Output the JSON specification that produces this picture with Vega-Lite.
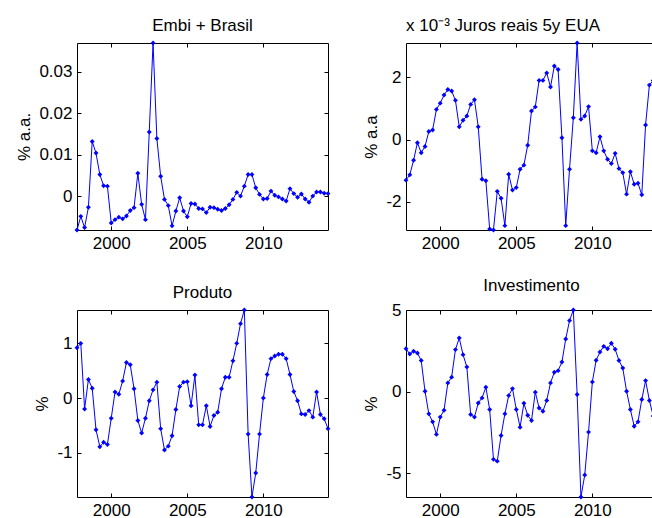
{
  "$schema": "https://vega.github.io/schema/vega-lite/v6.json",
  "background": "white",
  "padding": {"left": 15, "top": 16, "right": 0, "bottom": 0},
  "bounds": "flush",
  "columns": 2,
  "spacing": {"row": 80, "column": 78},
  "data": {"values": [
    {"t": 1997.75, "embi": -0.0082, "juros": -1.30, "produto": 0.92, "invest": 2.63},
    {"t": 1998.00, "embi": -0.0049, "juros": -1.13, "produto": 1.00, "invest": 2.30},
    {"t": 1998.25, "embi": -0.0076, "juros": -0.66, "produto": -0.20, "invest": 2.47},
    {"t": 1998.50, "embi": -0.0027, "juros": -0.10, "produto": 0.34, "invest": 2.36},
    {"t": 1998.75, "embi": 0.0132, "juros": -0.42, "produto": 0.18, "invest": 1.90},
    {"t": 1999.00, "embi": 0.0104, "juros": -0.22, "produto": -0.58, "invest": 0.02},
    {"t": 1999.25, "embi": 0.0052, "juros": 0.26, "produto": -0.89, "invest": -1.37},
    {"t": 1999.50, "embi": 0.0025, "juros": 0.31, "produto": -0.81, "invest": -1.86},
    {"t": 1999.75, "embi": 0.0024, "juros": 0.97, "produto": -0.85, "invest": -2.63},
    {"t": 2000.00, "embi": -0.0065, "juros": 1.17, "produto": -0.37, "invest": -1.57},
    {"t": 2000.25, "embi": -0.0057, "juros": 1.43, "produto": 0.11, "invest": -1.15},
    {"t": 2000.50, "embi": -0.0051, "juros": 1.61, "produto": 0.07, "invest": 0.53},
    {"t": 2000.75, "embi": -0.0055, "juros": 1.56, "produto": 0.31, "invest": 0.88},
    {"t": 2001.00, "embi": -0.0048, "juros": 1.26, "produto": 0.65, "invest": 2.57},
    {"t": 2001.25, "embi": -0.0035, "juros": 0.41, "produto": 0.61, "invest": 3.28},
    {"t": 2001.50, "embi": -0.0028, "juros": 0.62, "produto": 0.17, "invest": 2.26},
    {"t": 2001.75, "embi": 0.0055, "juros": 0.76, "produto": -0.41, "invest": 1.51},
    {"t": 2002.00, "embi": -0.0020, "juros": 1.13, "produto": -0.64, "invest": -1.41},
    {"t": 2002.25, "embi": -0.0057, "juros": 1.28, "produto": -0.37, "invest": -1.57},
    {"t": 2002.50, "embi": 0.0155, "juros": 0.41, "produto": -0.05, "invest": -0.70},
    {"t": 2002.75, "embi": 0.0370, "juros": -1.27, "produto": 0.15, "invest": -0.39},
    {"t": 2003.00, "embi": 0.0139, "juros": -1.32, "produto": 0.29, "invest": 0.26},
    {"t": 2003.25, "embi": 0.0048, "juros": -2.87, "produto": -0.56, "invest": -1.10},
    {"t": 2003.50, "embi": -0.0008, "juros": -2.90, "produto": -0.95, "invest": -4.16},
    {"t": 2003.75, "embi": -0.0023, "juros": -1.66, "produto": -0.88, "invest": -4.27},
    {"t": 2004.00, "embi": -0.0072, "juros": -1.88, "produto": -0.69, "invest": -2.70},
    {"t": 2004.25, "embi": -0.0036, "juros": -2.76, "produto": -0.21, "invest": -1.37},
    {"t": 2004.50, "embi": -0.0004, "juros": -1.11, "produto": 0.21, "invest": -0.25},
    {"t": 2004.75, "embi": -0.0036, "juros": -1.62, "produto": 0.29, "invest": 0.18},
    {"t": 2005.00, "embi": -0.0050, "juros": -1.54, "produto": 0.30, "invest": -1.10},
    {"t": 2005.25, "embi": -0.0018, "juros": -0.95, "produto": -0.14, "invest": -2.19},
    {"t": 2005.50, "embi": -0.0019, "juros": -0.82, "produto": 0.42, "invest": -0.72},
    {"t": 2005.75, "embi": -0.0030, "juros": -0.18, "produto": -0.49, "invest": -1.46},
    {"t": 2006.00, "embi": -0.0031, "juros": 0.92, "produto": -0.49, "invest": -1.78},
    {"t": 2006.25, "embi": -0.0040, "juros": 1.05, "produto": -0.14, "invest": -0.04},
    {"t": 2006.50, "embi": -0.0027, "juros": 1.90, "produto": -0.52, "invest": -1.01},
    {"t": 2006.75, "embi": -0.0028, "juros": 1.90, "produto": -0.32, "invest": -1.21},
    {"t": 2007.00, "embi": -0.0032, "juros": 2.14, "produto": -0.26, "invest": -0.55},
    {"t": 2007.25, "embi": -0.0035, "juros": 1.69, "produto": 0.17, "invest": 0.53},
    {"t": 2007.50, "embi": -0.0030, "juros": 2.36, "produto": 0.38, "invest": 1.18},
    {"t": 2007.75, "embi": -0.0021, "juros": 2.25, "produto": 0.38, "invest": 1.28},
    {"t": 2008.00, "embi": -0.0008, "juros": 0.06, "produto": 0.68, "invest": 1.81},
    {"t": 2008.25, "embi": 0.0009, "juros": -2.76, "produto": 1.00, "invest": 3.22},
    {"t": 2008.50, "embi": 0.0000, "juros": -0.95, "produto": 1.36, "invest": 4.35},
    {"t": 2008.75, "embi": 0.0024, "juros": 0.70, "produto": 1.61, "invest": 5.00},
    {"t": 2009.00, "embi": 0.0052, "juros": 3.10, "produto": -0.66, "invest": -0.18},
    {"t": 2009.25, "embi": 0.0052, "juros": 0.65, "produto": -1.81, "invest": -6.47},
    {"t": 2009.50, "embi": 0.0020, "juros": 0.76, "produto": -1.37, "invest": -5.12},
    {"t": 2009.75, "embi": 0.0004, "juros": 1.06, "produto": -0.66, "invest": -2.49},
    {"t": 2010.00, "embi": -0.0007, "juros": -0.36, "produto": 0.00, "invest": 0.59},
    {"t": 2010.25, "embi": -0.0006, "juros": -0.42, "produto": 0.43, "invest": 1.92},
    {"t": 2010.50, "embi": 0.0012, "juros": 0.09, "produto": 0.72, "invest": 2.42},
    {"t": 2010.75, "embi": 0.0002, "juros": -0.36, "produto": 0.77, "invest": 2.77},
    {"t": 2011.00, "embi": -0.0002, "juros": -0.63, "produto": 0.80, "invest": 2.62},
    {"t": 2011.25, "embi": -0.0007, "juros": -0.77, "produto": 0.80, "invest": 2.96},
    {"t": 2011.50, "embi": -0.0012, "juros": -0.44, "produto": 0.72, "invest": 2.59},
    {"t": 2011.75, "embi": 0.0018, "juros": -0.93, "produto": 0.43, "invest": 1.90},
    {"t": 2012.00, "embi": 0.0006, "juros": -1.06, "produto": 0.12, "invest": 1.44},
    {"t": 2012.25, "embi": -0.0003, "juros": -1.75, "produto": -0.05, "invest": 0.02},
    {"t": 2012.50, "embi": 0.0005, "juros": -1.03, "produto": -0.29, "invest": -1.10},
    {"t": 2012.75, "embi": -0.0007, "juros": -1.43, "produto": -0.30, "invest": -2.13},
    {"t": 2013.00, "embi": -0.0015, "juros": -1.40, "produto": -0.23, "invest": -1.86},
    {"t": 2013.25, "embi": 0.0000, "juros": -1.77, "produto": -0.35, "invest": -0.49},
    {"t": 2013.50, "embi": 0.0010, "juros": 0.47, "produto": 0.11, "invest": 0.67},
    {"t": 2013.75, "embi": 0.0010, "juros": 1.75, "produto": -0.30, "invest": -0.55},
    {"t": 2014.00, "embi": 0.0007, "juros": 1.90, "produto": -0.38, "invest": -1.50},
    {"t": 2014.25, "embi": 0.0006, "juros": 1.60, "produto": -0.56, "invest": -1.00}
  ]},
  "concat": [
    {
      "title": "Embi + Brasil",
      "width": 251, "height": 187,
      "layer": [
        {"mark": {"type": "line", "color": "#0000ff", "strokeWidth": 1},
         "encoding": {
           "x": {"field": "t", "type": "quantitative", "scale": {"domain": [1997.75, 2014.25], "nice": false, "zero": false}, "axis": {"values": [2000, 2005, 2010], "labelExpr": "toString(datum.value)", "title": null}},
           "y": {"field": "embi", "type": "quantitative", "scale": {"domain": [-0.0082, 0.037], "nice": false, "zero": false}, "axis": {"values": [0, 0.01, 0.02, 0.03], "labelExpr": "toString(datum.value)", "title": "% a.a."}}
         }},
        {"mark": {"type": "point", "shape": "diamond", "filled": true, "size": 24, "color": "#0000ff", "opacity": 1},
         "encoding": {
           "x": {"field": "t", "type": "quantitative", "axis": {"orient": "top", "values": [2000, 2005, 2010], "labels": false, "title": null}},
           "y": {"field": "embi", "type": "quantitative", "axis": {"orient": "right", "values": [0, 0.01, 0.02, 0.03], "labels": false, "title": null}}
         }}
      ],
      "resolve": {"axis": {"x": "independent", "y": "independent"}}
    },
    {
      "title": {"text": "x 10⁻³ Juros reais 5y EUA", "anchor": "start"},
      "width": 251, "height": 187,
      "layer": [
        {"mark": {"type": "line", "color": "#0000ff", "strokeWidth": 1},
         "encoding": {
           "x": {"field": "t", "type": "quantitative", "scale": {"domain": [1997.75, 2014.25], "nice": false, "zero": false}, "axis": {"values": [2000, 2005, 2010], "labelExpr": "toString(datum.value)", "title": null}},
           "y": {"field": "juros", "type": "quantitative", "scale": {"domain": [-2.9, 3.1], "nice": false, "zero": false}, "axis": {"values": [-2, 0, 2], "labelExpr": "toString(datum.value)", "title": "% a.a"}}
         }},
        {"mark": {"type": "point", "shape": "diamond", "filled": true, "size": 24, "color": "#0000ff", "opacity": 1},
         "encoding": {
           "x": {"field": "t", "type": "quantitative", "axis": {"orient": "top", "values": [2000, 2005, 2010], "labels": false, "title": null}},
           "y": {"field": "juros", "type": "quantitative", "axis": {"orient": "right", "values": [-2, 0, 2], "labels": false, "title": null}}
         }}
      ],
      "resolve": {"axis": {"x": "independent", "y": "independent"}}
    },
    {
      "title": "Produto",
      "width": 251, "height": 187,
      "layer": [
        {"mark": {"type": "line", "color": "#0000ff", "strokeWidth": 1},
         "encoding": {
           "x": {"field": "t", "type": "quantitative", "scale": {"domain": [1997.75, 2014.25], "nice": false, "zero": false}, "axis": {"values": [2000, 2005, 2010], "labelExpr": "toString(datum.value)", "title": null}},
           "y": {"field": "produto", "type": "quantitative", "scale": {"domain": [-1.81, 1.61], "nice": false, "zero": false}, "axis": {"values": [-1, 0, 1], "labelExpr": "toString(datum.value)", "title": "%"}}
         }},
        {"mark": {"type": "point", "shape": "diamond", "filled": true, "size": 24, "color": "#0000ff", "opacity": 1},
         "encoding": {
           "x": {"field": "t", "type": "quantitative", "axis": {"orient": "top", "values": [2000, 2005, 2010], "labels": false, "title": null}},
           "y": {"field": "produto", "type": "quantitative", "axis": {"orient": "right", "values": [-1, 0, 1], "labels": false, "title": null}}
         }}
      ],
      "resolve": {"axis": {"x": "independent", "y": "independent"}}
    },
    {
      "title": "Investimento",
      "width": 251, "height": 187,
      "layer": [
        {"mark": {"type": "line", "color": "#0000ff", "strokeWidth": 1},
         "encoding": {
           "x": {"field": "t", "type": "quantitative", "scale": {"domain": [1997.75, 2014.25], "nice": false, "zero": false}, "axis": {"values": [2000, 2005, 2010], "labelExpr": "toString(datum.value)", "title": null}},
           "y": {"field": "invest", "type": "quantitative", "scale": {"domain": [-6.47, 5.0], "nice": false, "zero": false}, "axis": {"values": [-5, 0, 5], "labelExpr": "toString(datum.value)", "title": "%"}}
         }},
        {"mark": {"type": "point", "shape": "diamond", "filled": true, "size": 24, "color": "#0000ff", "opacity": 1},
         "encoding": {
           "x": {"field": "t", "type": "quantitative", "axis": {"orient": "top", "values": [2000, 2005, 2010], "labels": false, "title": null}},
           "y": {"field": "invest", "type": "quantitative", "axis": {"orient": "right", "values": [-5, 0, 5], "labels": false, "title": null}}
         }}
      ],
      "resolve": {"axis": {"x": "independent", "y": "independent"}}
    }
  ],
  "config": {
    "font": "Liberation Sans",
    "view": {"stroke": "black", "strokeWidth": 1},
    "axis": {
      "labelFont": "Liberation Sans", "labelFontSize": 17, "labelColor": "black",
      "titleFont": "Liberation Sans", "titleFontSize": 17, "titleFontWeight": "normal", "titleColor": "black", "titlePadding": 5,
      "tickColor": "black", "tickSize": -4, "tickWidth": 1, "labelPadding": 9,
      "domain": false, "grid": false
    },
    "title": {"font": "Liberation Sans", "fontSize": 17, "fontWeight": "normal", "color": "black", "frame": "group", "baseline": "alphabetic", "offset": 6}
  }
}
